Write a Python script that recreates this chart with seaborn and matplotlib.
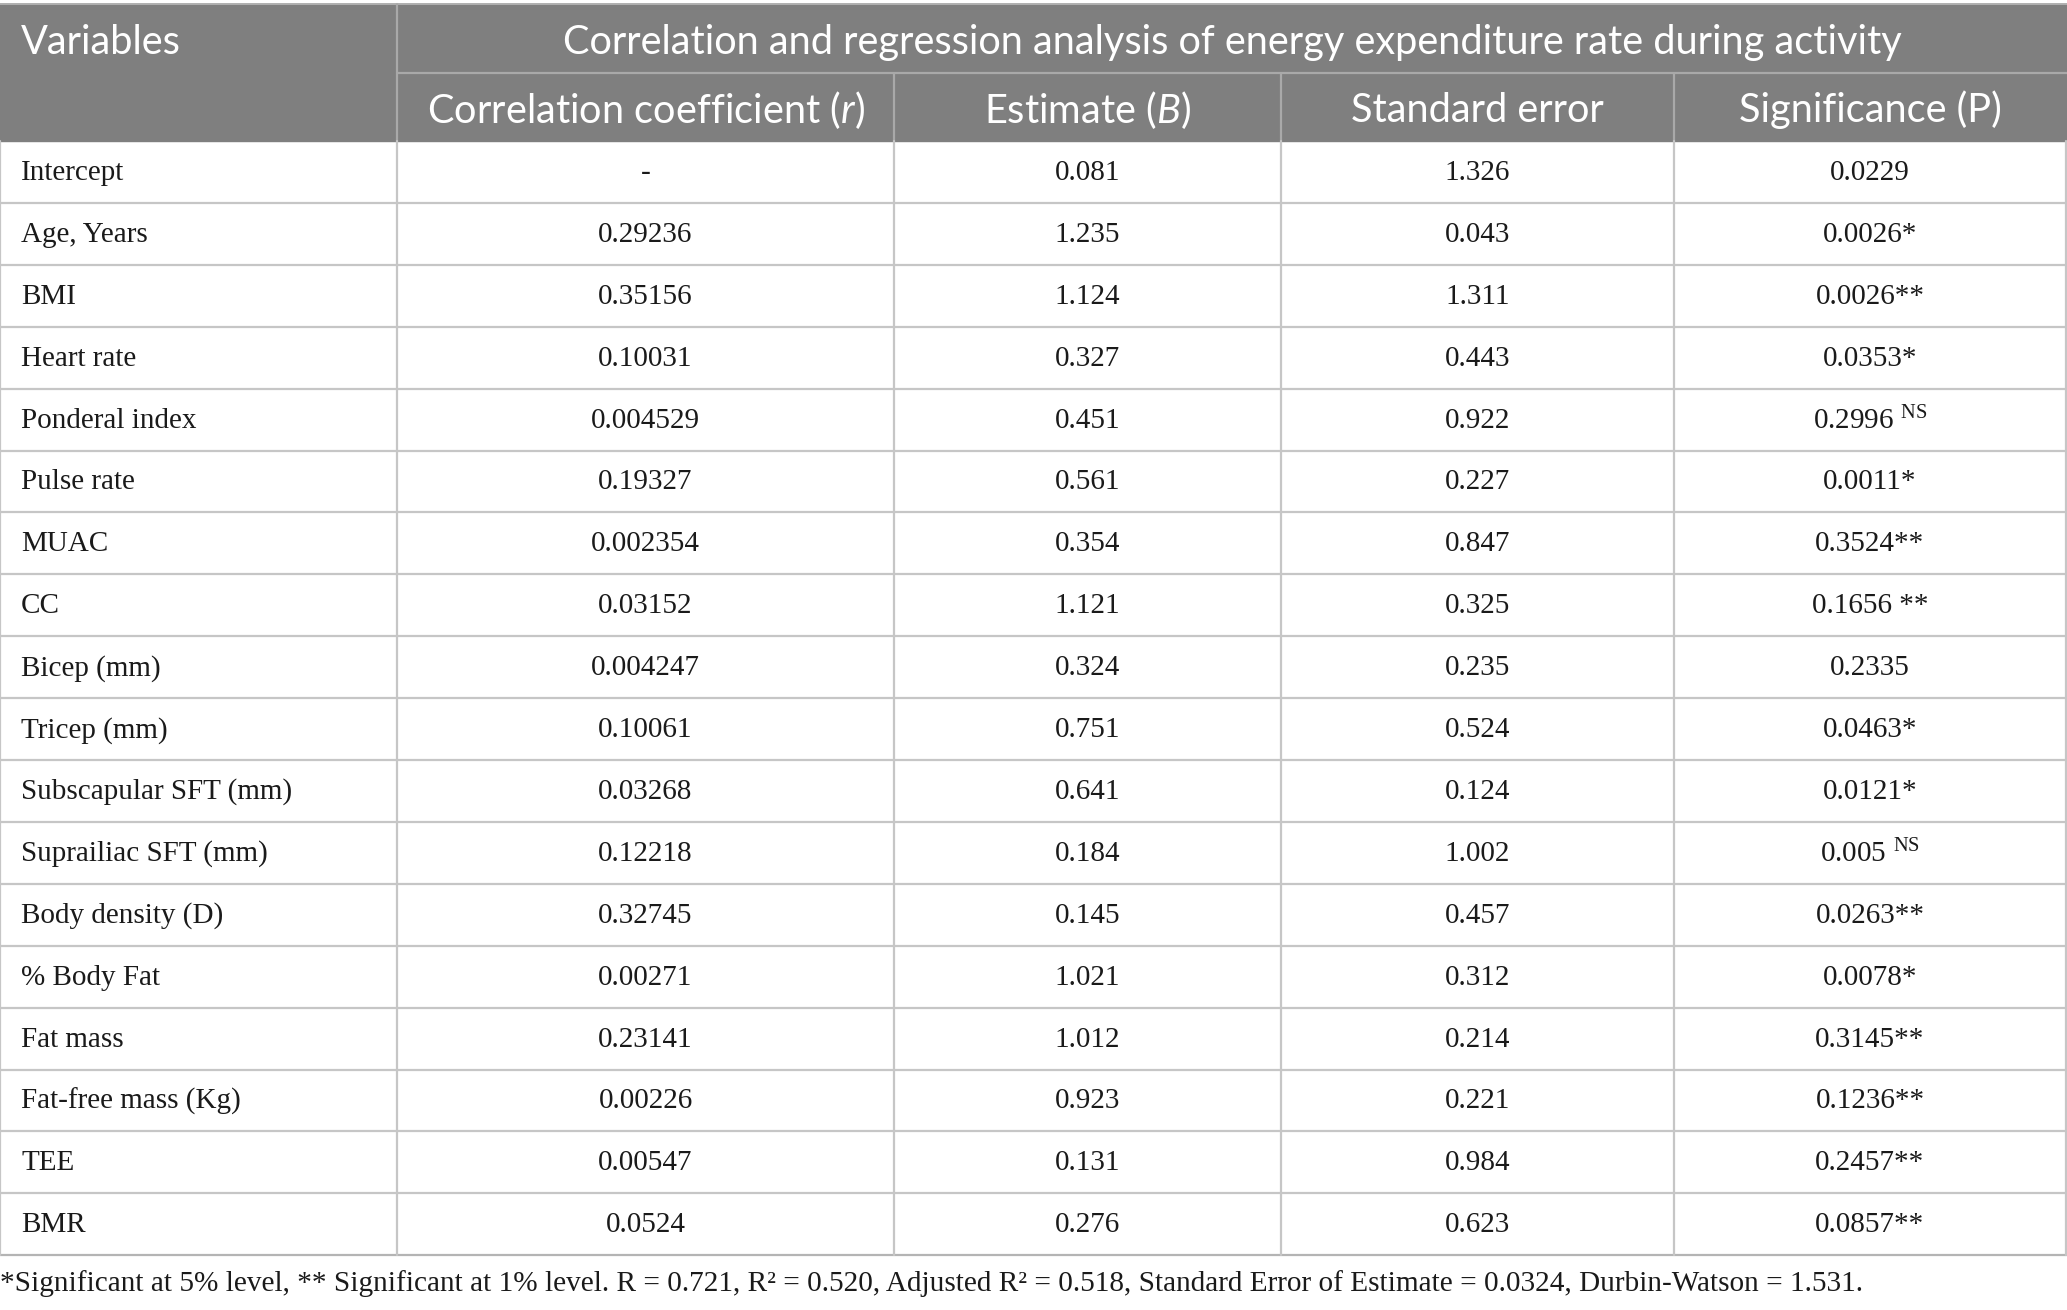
import matplotlib
matplotlib.use("Agg")
import matplotlib.pyplot as plt
import seaborn as sns

# table content
variables = ["Intercept", "Age, Years", "BMI", "Heart rate", "Ponderal index",
             "Pulse rate", "MUAC", "CC", "Bicep (mm)", "Tricep (mm)",
             "Subscapular SFT (mm)", "Suprailiac SFT (mm)", "Body density (D)",
             "% Body Fat", "Fat mass", "Fat-free mass (Kg)", "TEE", "BMR"]
corr_r = ["-", "0.29236", "0.35156", "0.10031", "0.004529", "0.19327",
          "0.002354", "0.03152", "0.004247", "0.10061", "0.03268", "0.12218",
          "0.32745", "0.00271", "0.23141", "0.00226", "0.00547", "0.0524"]
estimate_b = ["0.081", "1.235", "1.124", "0.327", "0.451", "0.561", "0.354",
              "1.121", "0.324", "0.751", "0.641", "0.184", "0.145", "1.021",
              "1.012", "0.923", "0.131", "0.276"]
std_error = ["1.326", "0.043", "1.311", "0.443", "0.922", "0.227", "0.847",
             "0.325", "0.235", "0.524", "0.124", "1.002", "0.457", "0.312",
             "0.214", "0.221", "0.984", "0.623"]
significance = ["0.0229", "0.0026*", "0.0026**", "0.0353*", "0.2996 NS",
                "0.0011*", "0.3524**", "0.1656 **", "0.2335", "0.0463*",
                "0.0121*", "0.005 NS", "0.0263**", "0.0078*", "0.3145**",
                "0.1236**", "0.2457**", "0.0857**"]

title = "Correlation and regression analysis of energy expenditure rate during activity"
sub_headers = ["Correlation coefficient ($\\mathit{r}$)", "Estimate ($\\mathit{B}$)",
               "Standard error", "Significance (P)"]
footnote = ("*Significant at 5% level, ** Significant at 1% level. R = 0.721, "
            "R\u00b2 = 0.520, Adjusted R\u00b2 = 0.518, Standard Error of Estimate = 0.0324, "
            "Durbin-Watson = 1.531.")

sns.set_theme(style="white")
plt.rcParams["font.family"] = ["Liberation Serif", "DejaVu Serif"]
plt.rcParams["mathtext.fontset"] = "custom"
plt.rcParams["mathtext.rm"] = "Liberation Serif"
plt.rcParams["mathtext.it"] = "Lato:italic"

W, H = 2067, 1310
fig = plt.figure(figsize=(W / 100, H / 100), dpi=100)
ax = fig.add_axes([0, 0, 1, 1])
ax.set_xlim(0, W)
ax.set_ylim(H, 0)
ax.axis("off")

col_edges = [0, 397, 894, 1281, 1674, 2066]
top, mid_head, head_bottom = 4, 73, 141
row_h = 61.9
n = len(variables)
bottom = head_bottom + n * row_h

header_bg = "#7f7f7f"
header_line = "#a9a9a9"
grid = "#c6c6c6"
txt = "#1a1a1a"

# header block
ax.axhspan(top, head_bottom, xmin=0, xmax=1, color=header_bg, zorder=0)
ax.plot([0, W], [top, top], color="#b0b0b0", lw=1.4)
ax.plot([col_edges[1], W], [mid_head, mid_head], color=header_line, lw=1.6)
ax.plot([col_edges[1], col_edges[1]], [top, head_bottom], color=header_line, lw=1.6)
for x in col_edges[2:-1]:
    ax.plot([x, x], [mid_head, head_bottom], color=header_line, lw=1.6)

hfont = dict(family=["Lato", "DejaVu Sans"], color="white", fontsize=28.6)
ax.text(21, (top + mid_head) / 2 + 4, "Variables", ha="left", va="center", **hfont)
ax.text((col_edges[1] + W) / 2, (top + mid_head) / 2 + 4, title, ha="center", va="center", **hfont)
for i, lab in enumerate(sub_headers):
    cx = (col_edges[i + 1] + col_edges[i + 2]) / 2
    ax.text(cx, (mid_head + head_bottom) / 2 + 3, lab, ha="center", va="center", **hfont)

# body grid
for i in range(1, n + 1):
    y = head_bottom + i * row_h
    ax.plot([0, W], [y, y], color=grid if i < n else "#b4b4b4", lw=1.6)
for x in col_edges:
    ax.plot([x, x], [head_bottom, bottom], color=grid, lw=1.6)

bfont = dict(color=txt, fontsize=21)
for i in range(n):
    cy = head_bottom + (i + 0.5) * row_h + 1
    ax.text(21, cy, variables[i], ha="left", va="center", **bfont)
    cols = [corr_r[i], estimate_b[i], std_error[i], significance[i]]
    for j, val in enumerate(cols):
        cx = (col_edges[j + 1] + col_edges[j + 2]) / 2
        if val.endswith(" NS"):
            val = val[:-3] + " $^{\\mathrm{NS}}$"
        ax.text(cx, cy, val, ha="center", va="center", **bfont)

ax.text(0, 1284, footnote, ha="left", va="center", color=txt, fontsize=21.1)

fig.savefig("out.png", dpi=100, facecolor="white")
